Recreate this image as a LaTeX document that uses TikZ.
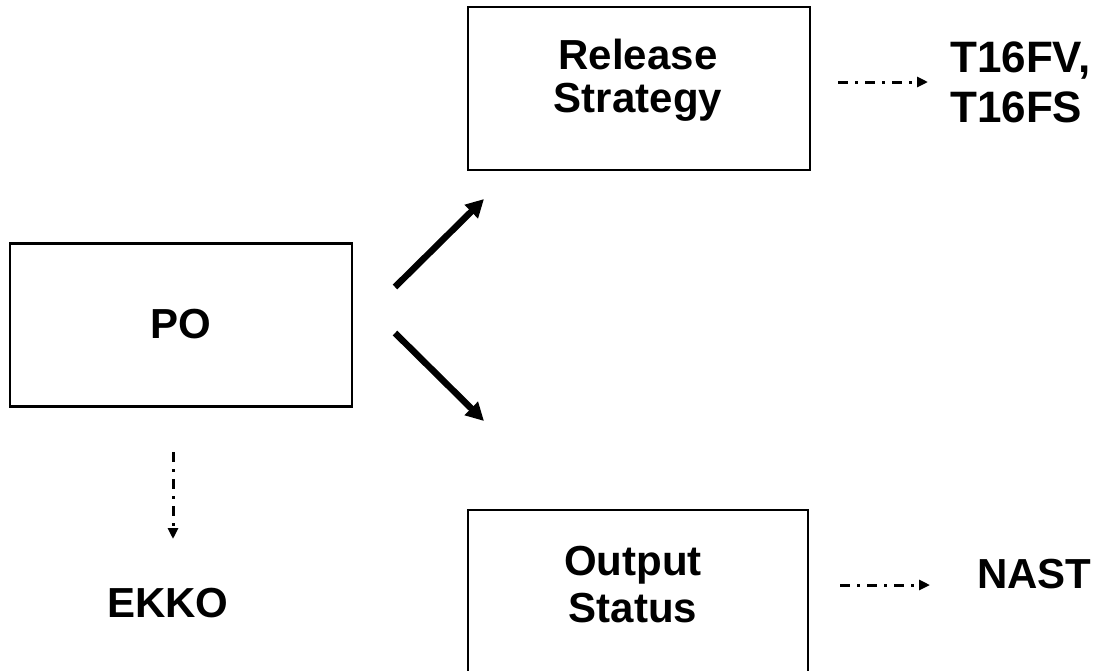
\documentclass[tikz,border=0pt]{standalone}
\usepackage{fontspec}
\setmainfont{Liberation Sans}
\usetikzlibrary{arrows.meta}
\begin{document}
\begin{tikzpicture}[x=1pt,y=-1pt,
  box/.style={draw=black, line width=2.2pt, minimum width=342pt, minimum height=163pt, inner sep=0pt},
  lbl/.style={font=\bfseries\fontsize{42}{42}\selectfont, inner sep=0pt},
  bigarrow/.style={line width=6.5pt, -{Triangle[length=18pt,width=18pt]}},
  ddarrow/.style={line width=3pt, dash pattern=on 10pt off 7pt on 3pt off 7pt, -{Triangle[length=11pt,width=10pt]}}]
\clip (0,0) rectangle (1111,670);
\useasboundingbox (0,0) rectangle (1111,670);
% boxes
\node[box] (po) at (181,325) {};
\node[box] (rs) at (639,88.5) {};
\node[box, minimum width=340pt, minimum height=200pt] (os) at (638,610) {};
% box texts
\node[lbl, anchor=base] (potxt) at (181,338) {PO};
\node[lbl, anchor=base, align=center, font=\bfseries\fontsize{42}{43}\selectfont] (rstxt) at (638,112) {Release\\Strategy};
\node[lbl, anchor=base, align=center, font=\bfseries\fontsize{42}{47}\selectfont] (ostxt) at (633,622) {Output\\Status};
% outside labels
\node[lbl, anchor=base west, align=left, font=\bfseries\fontsize{44}{50}\selectfont] (t16) at (950,122) {T16FV,\\T16FS};
\node[lbl, anchor=base west] (nast) at (977,588) {NAST};
\node[lbl, anchor=base west] (ekko) at (107,617) {EKKO};
% arrow end points
\coordinate (a1s) at (395,287);
\coordinate (a1e) at (484,199);
\coordinate (a2s) at (395,333);
\coordinate (a2e) at (484,421);
\coordinate (d1s) at (838,82);
\coordinate (d1e) at (928,82);
\coordinate (d2s) at (840,585);
\coordinate (d2e) at (930,585);
\coordinate (d3s) at (173,452);
\coordinate (d3e) at (173,539);
\draw[bigarrow] (a1s) -- (a1e);
\draw[bigarrow] (a2s) -- (a2e);
\draw[ddarrow] (d1s) -- (d1e);
\draw[ddarrow] (d2s) -- (d2e);
\draw[ddarrow] (d3s) -- (d3e);
\end{tikzpicture}
\end{document}
